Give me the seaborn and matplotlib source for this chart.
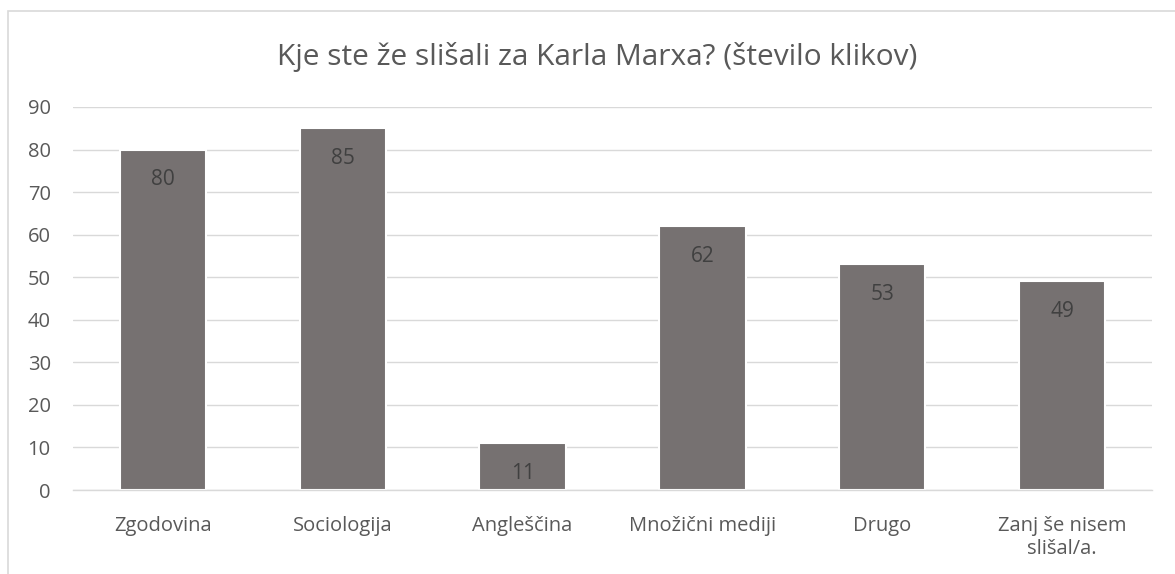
import pandas as pd
import numpy as np
import matplotlib.pyplot as plt
import seaborn as sns
from matplotlib.patches import Rectangle
from matplotlib.ticker import FixedLocator

categories = ['Zgodovina', 'Sociologija', 'Angleščina', 'Množični mediji', 'Drugo', 'Zanj še nisem\nslišal/a.']
clicks = [80, 85, 11, 62, 53, 49]
title = 'Kje ste že slišali za Karla Marxa? (število klikov)'

df = pd.DataFrame({'vir': categories, 'kliki': clicks})

sns.set_style('white')
plt.rcParams['font.family'] = ['Open Sans', 'DejaVu Sans']

fig = plt.figure(figsize=(11.75, 5.74), dpi=100)
ax = fig.add_axes([73/1175, 1 - 490/574, (1152-73)/1175, (490-107)/574])

sns.barplot(data=df, x='vir', y='kliki', ax=ax, color='#767171', width=0.48,
            edgecolor='white', linewidth=1.5, saturation=1)

for i, v in enumerate(clicks):
    ax.text(i, v - 8.4, str(v), ha='center', va='baseline', fontsize=15, color='#404040')

ax.set_ylim(0, 90)
ax.set_xlim(-0.5, len(categories) - 0.5)
ax.set_yticks(range(0, 91, 10))
ax.yaxis.grid(True, color='#d9d9d9', linewidth=1)
ax.set_axisbelow(True)
ax.set_xlabel('')
ax.set_ylabel('')
for s in ['top', 'right', 'left']:
    ax.spines[s].set_visible(False)
ax.spines['bottom'].set_color('#d9d9d9')
ax.spines['bottom'].set_linewidth(1)

ax.tick_params(axis='y', length=0, pad=16, labelsize=14.5, labelcolor='#595959')
ax.tick_params(axis='x', which='major', length=0, pad=19, labelsize=14.5, labelcolor='#595959')
ax.xaxis.set_minor_locator(FixedLocator(np.arange(-0.5, len(categories), 1)))
ax.tick_params(axis='x', which='minor', length=6, color='#d9d9d9', width=1, direction='out')

fig.text(597/1175, 1 - 65/574, title, ha='center', va='baseline', fontsize=21.5, color='#595959')

# chart border (Excel chart area)
fig.patches.append(Rectangle((8/1175, -0.2), 2, 1.2 - 11/574, transform=fig.transFigure,
                             fill=False, edgecolor='#d9d9d9', linewidth=1.2))

fig.savefig('out.png', dpi=100, facecolor='white')
